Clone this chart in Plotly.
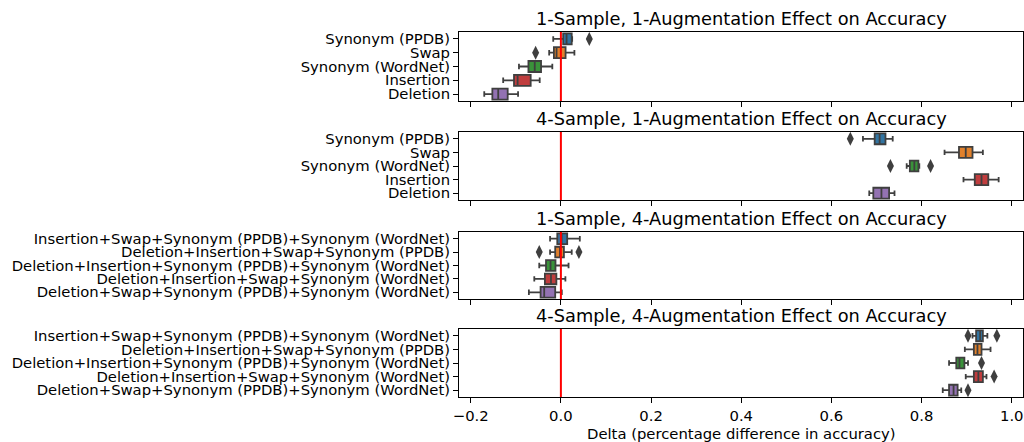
import plotly.graph_objects as go

# ---------------- data ----------------
labels_1aug = ["Synonym (PPDB)", "Swap", "Synonym (WordNet)", "Insertion", "Deletion"]
labels_4aug = [
    "Insertion+Swap+Synonym (PPDB)+Synonym (WordNet)",
    "Deletion+Insertion+Swap+Synonym (PPDB)",
    "Deletion+Insertion+Synonym (PPDB)+Synonym (WordNet)",
    "Deletion+Insertion+Swap+Synonym (WordNet)",
    "Deletion+Swap+Synonym (PPDB)+Synonym (WordNet)",
]
titles = [
    "1-Sample, 1-Augmentation Effect on Accuracy",
    "4-Sample, 1-Augmentation Effect on Accuracy",
    "1-Sample, 4-Augmentation Effect on Accuracy",
    "4-Sample, 4-Augmentation Effect on Accuracy",
]
colors = ["#3274a1", "#e1812c", "#3a923a", "#c03d3e", "#9372b2"]

# panel 1: 1-sample, 1-augmentation
p1_lo = [-0.017, -0.026, -0.093, -0.128, -0.170]
p1_q1 = [0.005, -0.0155, -0.072, -0.104, -0.152]
p1_med = [0.0126, -0.0096, -0.058, -0.096, -0.139]
p1_q3 = [0.024, 0.0104, -0.044, -0.067, -0.118]
p1_hi = [0.025, 0.030, -0.019, -0.047, -0.095]
p1_out = [[0.063], [-0.056], [], [], []]

# panel 2: 4-sample, 1-augmentation
p2_lo = [0.670, 0.851, 0.767, 0.893, 0.684]
p2_q1 = [0.696, 0.883, 0.774, 0.918, 0.693]
p2_med = [0.707, 0.898, 0.784, 0.933, 0.711]
p2_q3 = [0.720, 0.913, 0.793, 0.948, 0.728]
p2_hi = [0.736, 0.936, 0.795, 0.971, 0.740]
p2_out = [[0.642], [], [0.731, 0.820], [], []]

# panel 3: 1-sample, 4-augmentation
p3_lo = [-0.024, -0.024, -0.048, -0.059, -0.071]
p3_q1 = [-0.008, -0.0126, -0.033, -0.0355, -0.045]
p3_med = [0.0015, -0.002, -0.023, -0.022, -0.037]
p3_q3 = [0.014, 0.0067, -0.012, -0.010, -0.0126]
p3_hi = [0.042, 0.024, 0.017, 0.010, 0.002]
p3_out = [[], [-0.048, 0.040], [], [], []]

# panel 4: 4-sample, 4-augmentation
p4_lo = [0.913, 0.896, 0.861, 0.898, 0.847]
p4_q1 = [0.921, 0.916, 0.877, 0.916, 0.861]
p4_med = [0.930, 0.924, 0.884, 0.926, 0.871]
p4_q3 = [0.936, 0.933, 0.895, 0.936, 0.880]
p4_hi = [0.946, 0.953, 0.903, 0.944, 0.888]
p4_out = [[0.903, 0.967], [], [0.933], [0.961], [0.903]]

tick_vals = [-0.2, 0.0, 0.2, 0.4, 0.6, 0.8, 1.0]
x_label = "Delta (percentage difference in accuracy)"

# ---------------- layout geometry ----------------
W, H = 1024, 442
ML, MR, MT, MB = 459, 1, 32, 45
plot_h = H - MT - MB
panel_px = [(32, 101), (132, 200), (232, 299), (329, 397)]  # top, bottom in pixels
domains = [[(H - MB - b) / plot_h, (H - MB - t) / plot_h] for t, b in panel_px]

panels = [
    (labels_1aug, p1_lo, p1_q1, p1_med, p1_q3, p1_hi, p1_out),
    (labels_1aug, p2_lo, p2_q1, p2_med, p2_q3, p2_hi, p2_out),
    (labels_4aug, p3_lo, p3_q1, p3_med, p3_q3, p3_hi, p3_out),
    (labels_4aug, p4_lo, p4_q1, p4_med, p4_q3, p4_hi, p4_out),
]

FONT = "DejaVu Sans"
TICK_FS = 14.8
TITLE_FS = 17.8
fig = go.Figure()
layout = dict(
    width=W, height=H,
    margin=dict(l=ML, r=MR, t=MT, b=MB),
    paper_bgcolor="white", plot_bgcolor="white",
    showlegend=False,
    font=dict(family=FONT, size=TICK_FS, color="black"),
)
shapes = []
annotations = []

for i, (labs, lo, q1, med, q3, hi, outs) in enumerate(panels):
    n = i + 1
    xa = "x" if n == 1 else f"x{n}"
    ya = "y" if n == 1 else f"y{n}"
    for j, lab in enumerate(labs):
        fig.add_trace(go.Box(
            y=[lab], orientation="h",
            q1=[q1[j]], median=[med[j]], q3=[q3[j]],
            lowerfence=[lo[j]], upperfence=[hi[j]],
            fillcolor=colors[j], line=dict(color="#3f3f3f", width=1.8),
            width=0.8, whiskerwidth=0.5, boxpoints=False,
            xaxis=xa, yaxis=ya, hoverinfo="skip",
        ))
        if outs[j]:
            fig.add_trace(go.Scatter(
                x=outs[j], y=[lab] * len(outs[j]), mode="markers",
                marker=dict(symbol="diamond-tall", size=10, color="#3f3f3f"),
                xaxis=xa, yaxis=ya, hoverinfo="skip",
            ))
    layout[f"xaxis{'' if n == 1 else n}"] = dict(
        domain=[0, 1], anchor=ya, range=[-0.226, 1.025],
        tickmode="array", tickvals=tick_vals,
        ticktext=[f"{v:.1f}".replace("-", "\u2212") for v in tick_vals],
        showticklabels=(n == 4), ticks="outside", ticklen=5, tickcolor="black",
        showline=True, mirror=True, linecolor="black", linewidth=1,
        showgrid=False, zeroline=False,
        tickfont=dict(family=FONT, size=TICK_FS, color="black"),
        **({} if n == 1 else {"matches": "x"}),
    )
    layout[f"yaxis{'' if n == 1 else n}"] = dict(
        domain=domains[i], anchor=xa, type="category",
        categoryorder="array", categoryarray=labs, range=[4.5, -0.5],
        tickmode="array", tickvals=labs, ticktext=labs,
        ticks="outside", ticklen=5, tickcolor="black",
        showline=True, mirror=True, linecolor="black", linewidth=1,
        showgrid=False, zeroline=False,
        tickfont=dict(family=FONT, size=TICK_FS, color="black"),
    )
    shapes.append(dict(
        type="line", xref=xa, yref=f"{ya} domain", x0=0, x1=0, y0=0, y1=1,
        line=dict(color="red", width=2), layer="above",
    ))
    annotations.append(dict(
        text=titles[i], xref="paper", yref="paper", x=0.5, y=domains[i][1],
        xanchor="center", yanchor="bottom", yshift=1, showarrow=False,
        font=dict(family=FONT, size=TITLE_FS, color="black"),
    ))

annotations.append(dict(
    text=x_label, xref="paper", yref="paper", x=0.5, y=0,
    xanchor="center", yanchor="top", yshift=-26, showarrow=False,
    font=dict(family=FONT, size=TICK_FS, color="black"),
))

layout["shapes"] = shapes
layout["annotations"] = annotations
fig.update_layout(**layout)
fig.write_html(
    "out.html",
    config={"displayModeBar": False},
    post_script="document.body.style.margin='0';document.body.style.overflow='hidden';",
)
